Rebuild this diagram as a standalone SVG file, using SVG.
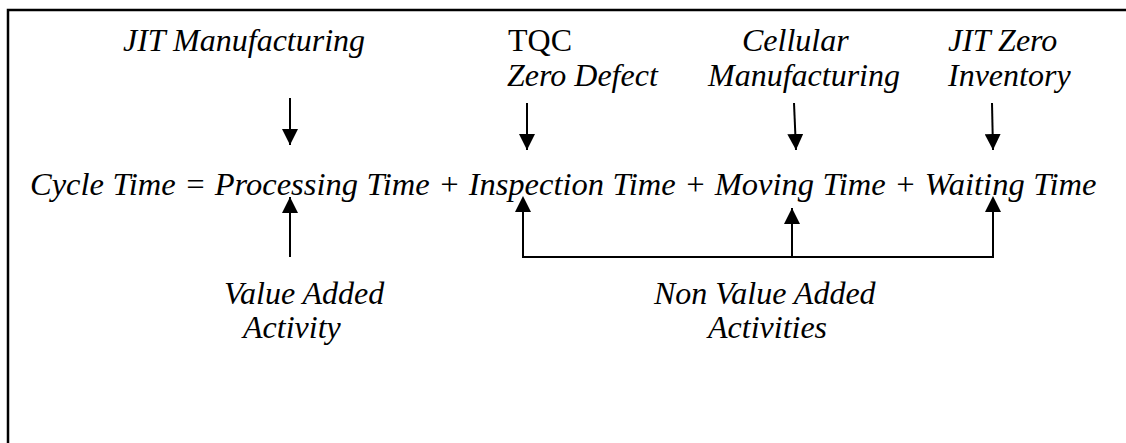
<svg xmlns="http://www.w3.org/2000/svg" width="1126" height="443" viewBox="0 0 1126 443">
<style>
text{font-family:"Liberation Serif","Times New Roman",serif;font-size:32px;fill:#000}
.i{font-style:italic}
.ln{stroke:#000;stroke-width:2;fill:none}
</style>
<defs>
<marker id="h" viewBox="0 0 16 16" markerWidth="16" markerHeight="16" refX="16" refY="8" orient="auto" markerUnits="userSpaceOnUse">
<path d="M0,0 L16,8 L0,16 z" fill="#000"/>
</marker>
</defs>
<rect width="1126" height="443" fill="#fff"/>
<g id="frame">
<path d="M8,443 L8,10 L1126,10" stroke="#000" stroke-width="2.5" fill="none"/>
</g>
<g id="equation"><text class="i" x="30" y="195" style="font-size:32.5px" word-spacing="0.4">Cycle Time = Processing Time + Inspection Time + Moving Time + Waiting Time</text></g>
<g id="jit-manufacturing"><text class="i" x="123" y="51">JIT Manufacturing</text></g>
<g id="tqc"><text x="508" y="51">TQC</text><text class="i" x="507" y="86">Zero Defect</text></g>
<g id="cellular"><text class="i" x="742" y="51">Cellular</text><text class="i" x="708" y="86">Manufacturing</text></g>
<g id="jit-zero"><text class="i" x="948" y="51">JIT Zero</text><text class="i" x="948" y="86">Inventory</text></g>
<g id="value-added"><text class="i" x="224" y="304">Value Added</text><text class="i" x="243" y="338">Activity</text></g>
<g id="non-value-added"><text class="i" x="654" y="304">Non Value Added</text><text class="i" x="708" y="338">Activities</text></g>
<g id="connectors">
<line class="ln" x1="290" y1="98" x2="290" y2="145" marker-end="url(#h)"/>
<line class="ln" x1="527" y1="103" x2="527" y2="150" marker-end="url(#h)"/>
<line class="ln" x1="794" y1="103" x2="796" y2="150" marker-end="url(#h)"/>
<line class="ln" x1="992" y1="103" x2="993" y2="150" marker-end="url(#h)"/>
<line class="ln" x1="290" y1="257" x2="290" y2="197" marker-end="url(#h)"/>
<path class="ln" d="M523,204 L523,257 L993,257 L993,204"/>
<path d="M515,212 L523,196 L531,212 z" fill="#000"/>
<path d="M985,212 L993,196 L1001,212 z" fill="#000"/>
<line class="ln" x1="792" y1="257" x2="792" y2="208" marker-end="url(#h)"/>
</g>
</svg>
